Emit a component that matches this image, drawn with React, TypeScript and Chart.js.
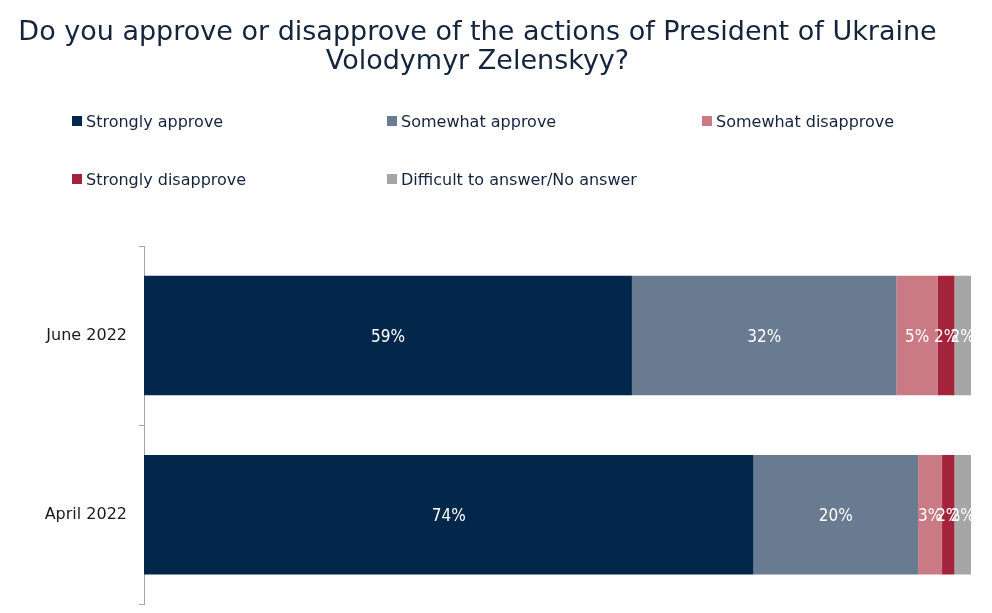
import React, { useEffect, useRef } from "react";
import { Chart, registerables } from "chart.js";

Chart.register(...registerables);

const TITLE_LINES = [
  "Do you approve or disapprove of the actions of President of Ukraine",
  "Volodymyr Zelenskyy?",
];
const CATEGORIES = ["June 2022", "April 2022"];
const SERIES_NAMES = [
  "Strongly approve",
  "Somewhat approve",
  "Somewhat disapprove",
  "Strongly disapprove",
  "Difficult to answer/No answer",
];
const SERIES_COLORS = ["#03274a", "#687b90", "#c97a84", "#a3233a", "#a6a6a6"];
const STRONGLY_APPROVE = [59, 73.7];
const SOMEWHAT_APPROVE = [32, 19.9];
const SOMEWHAT_DISAPPROVE = [5, 2.9];
const STRONGLY_DISAPPROVE = [2, 1.5];
const DIFFICULT = [2, 2.0];
const SERIES_VALUES = [
  STRONGLY_APPROVE,
  SOMEWHAT_APPROVE,
  SOMEWHAT_DISAPPROVE,
  STRONGLY_DISAPPROVE,
  DIFFICULT,
];

const TEXT_FONT = "'DejaVu Sans', Verdana, sans-serif";
const LABEL_FONT = "'Liberation Sans Narrow', 'DejaVu Sans Condensed', 'Liberation Sans', sans-serif";

const CANVAS_H = 626;

const barLabels = {
  id: "barLabels",
  afterDatasetsDraw(chart: any) {
    const ctx = chart.ctx;
    ctx.save();
    ctx.fillStyle = "#ffffff";
    ctx.font = `17px ${LABEL_FONT}`;
    ctx.textAlign = "center";
    ctx.textBaseline = "middle";
    chart.data.datasets.forEach((ds: any, di: number) => {
      const meta = chart.getDatasetMeta(di);
      meta.data.forEach((el: any, i: number) => {
        const v = ds.data[i];
        const cx = (el.x + el.base) / 2;
        ctx.fillText(`${Math.round(v)}%`, cx, el.y + 2);
      });
    });
    ctx.restore();
  },
};

export default function App() {
  const ref = useRef<HTMLCanvasElement>(null);

  useEffect(() => {
    const prevMargin = document.body.style.margin;
    document.body.style.margin = "0";
    const chart = new Chart(ref.current!, {
      type: "bar",
      data: {
        labels: CATEGORIES,
        datasets: SERIES_NAMES.map((name, i) => ({
          label: name,
          data: SERIES_VALUES[i],
          backgroundColor: SERIES_COLORS[i],
          borderWidth: 0,
          barPercentage: 0.667,
          categoryPercentage: 1,
        })),
      },
      options: {
        indexAxis: "y",
        animation: false,
        responsive: false,
        maintainAspectRatio: false,
        devicePixelRatio: 1,
        layout: { padding: { top: 246, right: 21, bottom: 8, left: 0 } },
        plugins: {
          legend: { display: false },
          title: { display: false },
          tooltip: { enabled: false },
        },
        scales: {
          x: {
            stacked: true,
            min: 0,
            max: 100,
            display: false,
          },
          y: {
            stacked: true,
            offset: true,
            afterFit: (scale: any) => {
              scale.width = 144;
            },
            border: { display: true, color: "#a6a6a6", width: 1 },
            grid: {
              offset: true,
              drawOnChartArea: false,
              drawTicks: true,
              tickLength: 5,
              color: "#a6a6a6",
            },
            ticks: {
              padding: 12,
              color: "#1a1a1a",
              font: { family: TEXT_FONT, size: 16 },
            },
          },
        },
      },
      plugins: [barLabels],
    });
    return () => {
      chart.destroy();
      document.body.style.margin = prevMargin;
    };
  }, []);

  return (
    <div style={{ position: "absolute", left: 0, top: 0, width: 992, height: 613, background: "#fff", overflow: "hidden" }}>
      <canvas ref={ref} width={992} height={CANVAS_H} style={{ position: "absolute", left: 0, top: 0, width: 992, height: CANVAS_H }} />
      <div
        style={{
          position: "absolute",
          left: 0,
          top: 16,
          width: 955,
          textAlign: "center",
          fontFamily: TEXT_FONT,
          fontSize: 27,
          lineHeight: "29px",
          color: "#14243d",
        }}
      >
        {TITLE_LINES.map((t) => (
          <div key={t}>{t}</div>
        ))}
      </div>
      {SERIES_NAMES.map((name, i) => {
        const col = i % 3;
        const row = Math.floor(i / 3);
        return (
          <div
            key={name}
            style={{
              position: "absolute",
              left: 72 + col * 315,
              top: 121 + row * 58 - 10,
              height: 20,
              display: "flex",
              alignItems: "center",
              fontFamily: TEXT_FONT,
              fontSize: 16,
              color: "#14243d",
              whiteSpace: "nowrap",
            }}
          >
            <span style={{ display: "inline-block", width: 10, height: 10, background: SERIES_COLORS[i], marginRight: 4 }} />
            {name}
          </div>
        );
      })}
    </div>
  );
}
